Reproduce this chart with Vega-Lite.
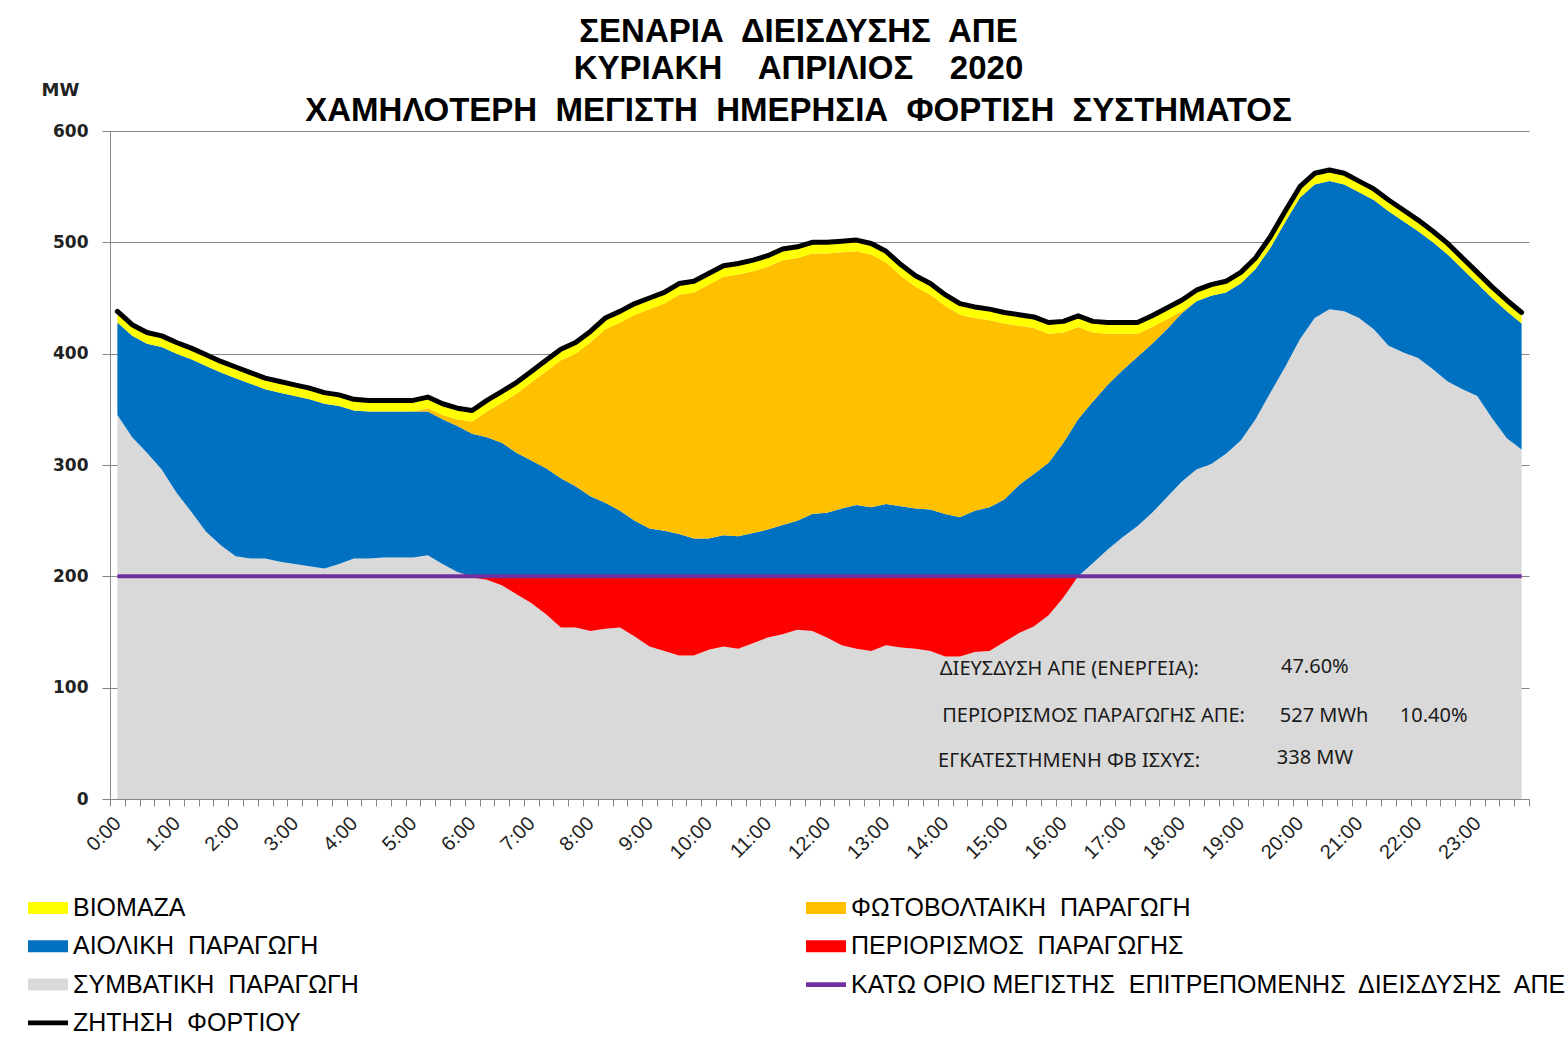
{
  "$schema": "https://vega.github.io/schema/vega-lite/v6.json",
  "width": 1419,
  "height": 668,
  "autosize": {"type": "none"},
  "padding": {"left": 110, "top": 131, "right": 39, "bottom": 239},
  "background": "white",
  "config": {"view": {"stroke": null}, "font": "Liberation Sans"},
  "title": {
    "text": ["ΣΕΝΑΡΙΑ\u00a0 ΔΙΕΙΣΔΥΣΗΣ\u00a0 ΑΠΕ", "ΚΥΡΙΑΚΗ\u00a0\u00a0\u00a0 ΑΠΡΙΛΙΟΣ\u00a0\u00a0\u00a0 2020"],
    "subtitle": "ΧΑΜΗΛΟΤΕΡΗ\u00a0 ΜΕΓΙΣΤΗ\u00a0 ΗΜΕΡΗΣΙΑ\u00a0 ΦΟΡΤΙΣΗ\u00a0 ΣΥΣΤΗΜΑΤΟΣ",
    "font": "Liberation Sans", "fontSize": 33, "fontWeight": "bold", "color": "black", "lineHeight": 37,
    "subtitleFont": "Liberation Sans", "subtitleFontSize": 33, "subtitleFontWeight": "bold", "subtitleColor": "black",
    "subtitlePadding": 9, "anchor": "middle", "dx": -21, "offset": -47
  },
  "datasets": {
    "series": [
      {"key": "conv", "label": "ΣΥΜΒΑΤΙΚΗ ΠΑΡΑΓΩΓΗ", "ord": 1},
      {"key": "curt", "label": "ΠΕΡΙΟΡΙΣΜΟΣ ΠΑΡΑΓΩΓΗΣ", "ord": 2},
      {"key": "wind", "label": "ΑΙΟΛΙΚΗ ΠΑΡΑΓΩΓΗ", "ord": 3},
      {"key": "pv", "label": "ΦΩΤΟΒΟΛΤΑΙΚΗ ΠΑΡΑΓΩΓΗ", "ord": 4},
      {"key": "bio", "label": "ΒΙΟΜΑΖΑ", "ord": 5}
    ]
  },
  "data": {"values": [
    {"h":0,"conv":345,"curt":0,"wind":83,"pv":0,"bio":10,"demand":438,"limit":200},
    {"h":0.25,"conv":325,"curt":0,"wind":91,"pv":0,"bio":10,"demand":426,"limit":200},
    {"h":0.5,"conv":311,"curt":0,"wind":98,"pv":0,"bio":10,"demand":419,"limit":200},
    {"h":0.75,"conv":296,"curt":0,"wind":110,"pv":0,"bio":10,"demand":416,"limit":200},
    {"h":1,"conv":275,"curt":0,"wind":125,"pv":0,"bio":10,"demand":410,"limit":200},
    {"h":1.25,"conv":258,"curt":0,"wind":137,"pv":0,"bio":10,"demand":405,"limit":200},
    {"h":1.5,"conv":240,"curt":0,"wind":149,"pv":0,"bio":10,"demand":399,"limit":200},
    {"h":1.75,"conv":228,"curt":0,"wind":155,"pv":0,"bio":10,"demand":393,"limit":200},
    {"h":2,"conv":218,"curt":0,"wind":160,"pv":0,"bio":10,"demand":388,"limit":200},
    {"h":2.25,"conv":216,"curt":0,"wind":157,"pv":0,"bio":10,"demand":383,"limit":200},
    {"h":2.5,"conv":216,"curt":0,"wind":152,"pv":0,"bio":10,"demand":378,"limit":200},
    {"h":2.75,"conv":213,"curt":0,"wind":152,"pv":0,"bio":10,"demand":375,"limit":200},
    {"h":3,"conv":211,"curt":0,"wind":151,"pv":0,"bio":10,"demand":372,"limit":200},
    {"h":3.25,"conv":209,"curt":0,"wind":150,"pv":0,"bio":10,"demand":369,"limit":200},
    {"h":3.5,"conv":207,"curt":0,"wind":148,"pv":0,"bio":10,"demand":365,"limit":200},
    {"h":3.75,"conv":211,"curt":0,"wind":142,"pv":0,"bio":10,"demand":363,"limit":200},
    {"h":4,"conv":216,"curt":0,"wind":133,"pv":0,"bio":10,"demand":359,"limit":200},
    {"h":4.25,"conv":216,"curt":0,"wind":132,"pv":0,"bio":10,"demand":358,"limit":200},
    {"h":4.5,"conv":217,"curt":0,"wind":131,"pv":0,"bio":10,"demand":358,"limit":200},
    {"h":4.75,"conv":217,"curt":0,"wind":131,"pv":0,"bio":10,"demand":358,"limit":200},
    {"h":5,"conv":217,"curt":0,"wind":131,"pv":0,"bio":10,"demand":358,"limit":200},
    {"h":5.25,"conv":219,"curt":0,"wind":129,"pv":3,"bio":10,"demand":361,"limit":200},
    {"h":5.5,"conv":211,"curt":0,"wind":130,"pv":4,"bio":10,"demand":355,"limit":200},
    {"h":5.75,"conv":204,"curt":0,"wind":131,"pv":6,"bio":10,"demand":351,"limit":200},
    {"h":6,"conv":199,"curt":1,"wind":128,"pv":11,"bio":10,"demand":349,"limit":200},
    {"h":6.25,"conv":197,"curt":3,"wind":125,"pv":23,"bio":10,"demand":358,"limit":200},
    {"h":6.5,"conv":192,"curt":8,"wind":120,"pv":36,"bio":10,"demand":366,"limit":200},
    {"h":6.75,"conv":184,"curt":16,"wind":111,"pv":53,"bio":10,"demand":374,"limit":200},
    {"h":7,"conv":176,"curt":24,"wind":104,"pv":70,"bio":10,"demand":384,"limit":200},
    {"h":7.25,"conv":166,"curt":34,"wind":97,"pv":87,"bio":10,"demand":394,"limit":200},
    {"h":7.5,"conv":154,"curt":46,"wind":88,"pv":106,"bio":10,"demand":404,"limit":200},
    {"h":7.75,"conv":154,"curt":46,"wind":81,"pv":119,"bio":10,"demand":410,"limit":200},
    {"h":8,"conv":151,"curt":49,"wind":72,"pv":138,"bio":10,"demand":420,"limit":200},
    {"h":8.25,"conv":153,"curt":47,"wind":66,"pv":156,"bio":10,"demand":432,"limit":200},
    {"h":8.5,"conv":154,"curt":46,"wind":59,"pv":169,"bio":10,"demand":438,"limit":200},
    {"h":8.75,"conv":146,"curt":54,"wind":50,"pv":185,"bio":10,"demand":445,"limit":200},
    {"h":9,"conv":137,"curt":63,"wind":43,"pv":197,"bio":10,"demand":450,"limit":200},
    {"h":9.25,"conv":133,"curt":67,"wind":41,"pv":204,"bio":10,"demand":455,"limit":200},
    {"h":9.5,"conv":129,"curt":71,"wind":38,"pv":215,"bio":10,"demand":463,"limit":200},
    {"h":9.75,"conv":129,"curt":71,"wind":34,"pv":221,"bio":10,"demand":465,"limit":200},
    {"h":10,"conv":134,"curt":66,"wind":34,"pv":228,"bio":10,"demand":472,"limit":200},
    {"h":10.25,"conv":137,"curt":63,"wind":37,"pv":232,"bio":10,"demand":479,"limit":200},
    {"h":10.5,"conv":135,"curt":65,"wind":36,"pv":235,"bio":10,"demand":481,"limit":200},
    {"h":10.75,"conv":140,"curt":60,"wind":39,"pv":235,"bio":10,"demand":484,"limit":200},
    {"h":11,"conv":145,"curt":55,"wind":42,"pv":236,"bio":10,"demand":488,"limit":200},
    {"h":11.25,"conv":148,"curt":52,"wind":46,"pv":238,"bio":10,"demand":494,"limit":200},
    {"h":11.5,"conv":152,"curt":48,"wind":50,"pv":236,"bio":10,"demand":496,"limit":200},
    {"h":11.75,"conv":151,"curt":49,"wind":56,"pv":234,"bio":10,"demand":500,"limit":200},
    {"h":12,"conv":145,"curt":55,"wind":57,"pv":233,"bio":10,"demand":500,"limit":200},
    {"h":12.25,"conv":138,"curt":62,"wind":61,"pv":230,"bio":10,"demand":501,"limit":200},
    {"h":12.5,"conv":135,"curt":65,"wind":64,"pv":228,"bio":10,"demand":502,"limit":200},
    {"h":12.75,"conv":133,"curt":67,"wind":62,"pv":227,"bio":10,"demand":499,"limit":200},
    {"h":13,"conv":138,"curt":62,"wind":65,"pv":217,"bio":10,"demand":492,"limit":200},
    {"h":13.25,"conv":136,"curt":64,"wind":63,"pv":207,"bio":10,"demand":480,"limit":200},
    {"h":13.5,"conv":135,"curt":65,"wind":61,"pv":199,"bio":10,"demand":470,"limit":200},
    {"h":13.75,"conv":133,"curt":67,"wind":60,"pv":193,"bio":10,"demand":463,"limit":200},
    {"h":14,"conv":128,"curt":72,"wind":56,"pv":187,"bio":10,"demand":453,"limit":200},
    {"h":14.25,"conv":128,"curt":72,"wind":53,"pv":182,"bio":10,"demand":445,"limit":200},
    {"h":14.5,"conv":132,"curt":68,"wind":59,"pv":173,"bio":10,"demand":442,"limit":200},
    {"h":14.75,"conv":133,"curt":67,"wind":62,"pv":168,"bio":10,"demand":440,"limit":200},
    {"h":15,"conv":141,"curt":59,"wind":69,"pv":158,"bio":10,"demand":437,"limit":200},
    {"h":15.25,"conv":149,"curt":51,"wind":82,"pv":143,"bio":10,"demand":435,"limit":200},
    {"h":15.5,"conv":155,"curt":45,"wind":92,"pv":131,"bio":10,"demand":433,"limit":200},
    {"h":15.75,"conv":165,"curt":35,"wind":102,"pv":116,"bio":10,"demand":428,"limit":200},
    {"h":16,"conv":181,"curt":19,"wind":120,"pv":99,"bio":10,"demand":429,"limit":200},
    {"h":16.25,"conv":200,"curt":0,"wind":141,"pv":83,"bio":10,"demand":434,"limit":200},
    {"h":16.5,"conv":212,"curt":0,"wind":145,"pv":62,"bio":10,"demand":429,"limit":200},
    {"h":16.75,"conv":224,"curt":0,"wind":148,"pv":46,"bio":10,"demand":428,"limit":200},
    {"h":17,"conv":235,"curt":0,"wind":150,"pv":33,"bio":10,"demand":428,"limit":200},
    {"h":17.25,"conv":245,"curt":0,"wind":152,"pv":21,"bio":10,"demand":428,"limit":200},
    {"h":17.5,"conv":257,"curt":0,"wind":152,"pv":15,"bio":10,"demand":434,"limit":200},
    {"h":17.75,"conv":271,"curt":0,"wind":151,"pv":9,"bio":10,"demand":441,"limit":200},
    {"h":18,"conv":285,"curt":0,"wind":151,"pv":2,"bio":10,"demand":448,"limit":200},
    {"h":18.25,"conv":296,"curt":0,"wind":151,"pv":0,"bio":10,"demand":457,"limit":200},
    {"h":18.5,"conv":301,"curt":0,"wind":151,"pv":0,"bio":10,"demand":462,"limit":200},
    {"h":18.75,"conv":310,"curt":0,"wind":145,"pv":0,"bio":10,"demand":465,"limit":200},
    {"h":19,"conv":322,"curt":0,"wind":141,"pv":0,"bio":10,"demand":473,"limit":200},
    {"h":19.25,"conv":341,"curt":0,"wind":135,"pv":0,"bio":10,"demand":486,"limit":200},
    {"h":19.5,"conv":365,"curt":0,"wind":130,"pv":0,"bio":10,"demand":505,"limit":200},
    {"h":19.75,"conv":388,"curt":0,"wind":130,"pv":0,"bio":10,"demand":528,"limit":200},
    {"h":20,"conv":413,"curt":0,"wind":127,"pv":0,"bio":10,"demand":550,"limit":200},
    {"h":20.25,"conv":432,"curt":0,"wind":120,"pv":0,"bio":10,"demand":562,"limit":200},
    {"h":20.5,"conv":440,"curt":0,"wind":115,"pv":0,"bio":10,"demand":565,"limit":200},
    {"h":20.75,"conv":438,"curt":0,"wind":114,"pv":0,"bio":10,"demand":562,"limit":200},
    {"h":21,"conv":432,"curt":0,"wind":113,"pv":0,"bio":10,"demand":555,"limit":200},
    {"h":21.25,"conv":422,"curt":0,"wind":116,"pv":0,"bio":10,"demand":548,"limit":200},
    {"h":21.5,"conv":407,"curt":0,"wind":121,"pv":0,"bio":10,"demand":538,"limit":200},
    {"h":21.75,"conv":401,"curt":0,"wind":118,"pv":0,"bio":10,"demand":529,"limit":200},
    {"h":22,"conv":396,"curt":0,"wind":114,"pv":0,"bio":10,"demand":520,"limit":200},
    {"h":22.25,"conv":386,"curt":0,"wind":114,"pv":0,"bio":10,"demand":510,"limit":200},
    {"h":22.5,"conv":375,"curt":0,"wind":114,"pv":0,"bio":10,"demand":499,"limit":200},
    {"h":22.75,"conv":368,"curt":0,"wind":108,"pv":0,"bio":10,"demand":486,"limit":200},
    {"h":23,"conv":362,"curt":0,"wind":101,"pv":0,"bio":10,"demand":473,"limit":200},
    {"h":23.25,"conv":342,"curt":0,"wind":108,"pv":0,"bio":10,"demand":460,"limit":200},
    {"h":23.5,"conv":324,"curt":0,"wind":114,"pv":0,"bio":10,"demand":448,"limit":200},
    {"h":23.75,"conv":314,"curt":0,"wind":113,"pv":0,"bio":10,"demand":437,"limit":200}
  ]},
  "resolve": {"axis": {"x": "independent"}},
  "layer": [
    {
      "transform": [
        {"fold": ["conv", "curt", "wind", "pv", "bio"], "as": ["key", "v"]},
        {"lookup": "key", "from": {"data": {"name": "series"}, "key": "key", "fields": ["label", "ord"]}}
      ],
      "mark": {"type": "area", "interpolate": "linear"},
      "encoding": {
        "x": {"field": "h", "type": "quantitative",
          "scale": {"domain": [-0.125, 23.875], "nice": false, "zero": false},
          "axis": {"orient": "bottom", "title": null, "labels": false, "grid": false, "ticks": true, "tickSize": 7, "tickColor": "#868686", "domainColor": "#868686",
            "values": [-0.125,0.125,0.375,0.625,0.875,1.125,1.375,1.625,1.875,2.125,2.375,2.625,2.875,3.125,3.375,3.625,3.875,4.125,4.375,4.625,4.875,5.125,5.375,5.625,5.875,6.125,6.375,6.625,6.875,7.125,7.375,7.625,7.875,8.125,8.375,8.625,8.875,9.125,9.375,9.625,9.875,10.125,10.375,10.625,10.875,11.125,11.375,11.625,11.875,12.125,12.375,12.625,12.875,13.125,13.375,13.625,13.875,14.125,14.375,14.625,14.875,15.125,15.375,15.625,15.875,16.125,16.375,16.625,16.875,17.125,17.375,17.625,17.875,18.125,18.375,18.625,18.875,19.125,19.375,19.625,19.875,20.125,20.375,20.625,20.875,21.125,21.375,21.625,21.875,22.125,22.375,22.625,22.875,23.125,23.375,23.625,23.875]}},
        "y": {"field": "v", "type": "quantitative", "stack": "zero",
          "scale": {"domain": [0, 600], "nice": false},
          "axis": {"title": "MW", "titleAngle": 0, "titleX": -50, "titleY": -41, "titleAlign": "center", "titleBaseline": "middle",
            "titleFont": "DejaVu Sans", "titleFontSize": 18, "titleFontWeight": "bold", "titleColor": "#222",
            "values": [0, 100, 200, 300, 400, 500, 600], "grid": true, "gridColor": "#868686", "gridWidth": 1,
            "domainColor": "#868686", "tickColor": "#868686", "tickSize": 8,
            "labelFont": "DejaVu Sans", "labelFontWeight": "bold", "labelFontSize": 17, "labelColor": "#222", "labelPadding": 14}},
        "color": {"field": "label", "type": "nominal",
          "scale": {
            "domain": ["ΒΙΟΜΑΖΑ", "ΑΙΟΛΙΚΗ ΠΑΡΑΓΩΓΗ", "ΣΥΜΒΑΤΙΚΗ ΠΑΡΑΓΩΓΗ", "ΖΗΤΗΣΗ ΦΟΡΤΙΟΥ", "ΦΩΤΟΒΟΛΤΑΙΚΗ ΠΑΡΑΓΩΓΗ", "ΠΕΡΙΟΡΙΣΜΟΣ ΠΑΡΑΓΩΓΗΣ", "ΚΑΤΩ ΟΡΙΟ ΜΕΓΙΣΤΗΣ ΕΠΙΤΡΕΠΟΜΕΝΗΣ ΔΙΕΙΣΔΥΣΗΣ ΑΠΕ"],
            "range": ["#FFFF00", "#0070C0", "#D9D9D9", "#000000", "#FFC000", "#FF0000", "#7030A0"]},
          "legend": {"orient": "none", "legendX": -82, "legendY": 757, "columns": 2, "columnPadding": 447, "rowPadding": 5.3,
            "title": null, "symbolSize": 1600, "labelFont": "Liberation Sans", "labelFontSize": 25, "labelColor": "black", "labelLimit": 1000, "labelOffset": 5,
            "labelExpr": "replace(replace(datum.label, / /g, '\u00a0 '), 'ΚΑΤΩ\u00a0 ΟΡΙΟ\u00a0 ', 'ΚΑΤΩ ΟΡΙΟ ')",
            "encode": {"symbols": {"update": {
              "shape": {"signal": "indexof(['ΖΗΤΗΣΗ ΦΟΡΤΙΟΥ', 'ΚΑΤΩ ΟΡΙΟ ΜΕΓΙΣΤΗΣ ΕΠΙΤΡΕΠΟΜΕΝΗΣ ΔΙΕΙΣΔΥΣΗΣ ΑΠΕ'], datum.value) >= 0 ? 'M-1,-0.12H1V0.12H-1Z' : 'M-1,-0.3H1V0.3H-1Z'"},
              "fill": {"scale": "color", "field": "value"},
              "stroke": {"value": "transparent"}, "strokeWidth": {"value": 0},
              "fillOpacity": {"value": 1}, "opacity": {"value": 1}}}}}},
        "order": {"field": "ord", "type": "quantitative"}
      }
    },
    {
      "mark": {"type": "line", "strokeWidth": 4},
      "encoding": {
        "x": {"field": "h", "type": "quantitative", "axis": null},
        "y": {"field": "limit", "type": "quantitative", "title": "MW"},
        "color": {"datum": "ΚΑΤΩ ΟΡΙΟ ΜΕΓΙΣΤΗΣ ΕΠΙΤΡΕΠΟΜΕΝΗΣ ΔΙΕΙΣΔΥΣΗΣ ΑΠΕ"}
      }
    },
    {
      "mark": {"type": "line", "strokeWidth": 5, "strokeJoin": "round", "strokeCap": "round"},
      "encoding": {
        "x": {"field": "h", "type": "quantitative",
          "axis": {"orient": "bottom", "title": null, "values": [0,1,2,3,4,5,6,7,8,9,10,11,12,13,14,15,16,17,18,19,20,21,22,23],
            "labelExpr": "datum.value + ':00'", "ticks": false, "domain": false, "grid": false,
            "labelAngle": -45, "labelAlign": "right", "labelBaseline": "middle", "labelPadding": 21,
            "labelFont": "Liberation Sans", "labelFontSize": 20, "labelColor": "#222"}},
        "y": {"field": "demand", "type": "quantitative", "title": "MW"},
        "color": {"datum": "ΖΗΤΗΣΗ ΦΟΡΤΙΟΥ"}
      }
    },
    {
      "data": {"values": [{}]},
      "mark": {"type": "text", "align": "left", "baseline": "middle", "font": "Noto Sans", "fontSize": 20, "color": "#1a1a1a", "text": "ΔΙΕΥΣΔΥΣΗ ΑΠΕ (ΕΝΕΡΓΕΙΑ):"},
      "encoding": {"x": {"datum": 13.91, "type": "quantitative", "axis": null}, "y": {"datum": 117, "type": "quantitative"}}
    },
    {
      "data": {"values": [{}]},
      "mark": {"type": "text", "align": "left", "baseline": "middle", "font": "Noto Sans", "fontSize": 20, "color": "#1a1a1a", "text": "47.60%"},
      "encoding": {"x": {"datum": 19.68, "type": "quantitative", "axis": null}, "y": {"datum": 119, "type": "quantitative"}}
    },
    {
      "data": {"values": [{}]},
      "mark": {"type": "text", "align": "left", "baseline": "middle", "font": "Noto Sans", "fontSize": 20, "color": "#1a1a1a", "text": "ΠΕΡΙΟΡΙΣΜΟΣ ΠΑΡΑΓΩΓΗΣ ΑΠΕ:"},
      "encoding": {"x": {"datum": 13.95, "type": "quantitative", "axis": null}, "y": {"datum": 75, "type": "quantitative"}}
    },
    {
      "data": {"values": [{}]},
      "mark": {"type": "text", "align": "left", "baseline": "middle", "font": "Noto Sans", "fontSize": 20, "color": "#1a1a1a", "text": "527 MWh"},
      "encoding": {"x": {"datum": 19.66, "type": "quantitative", "axis": null}, "y": {"datum": 75, "type": "quantitative"}}
    },
    {
      "data": {"values": [{}]},
      "mark": {"type": "text", "align": "left", "baseline": "middle", "font": "Noto Sans", "fontSize": 20, "color": "#1a1a1a", "text": "10.40%"},
      "encoding": {"x": {"datum": 21.69, "type": "quantitative", "axis": null}, "y": {"datum": 75, "type": "quantitative"}}
    },
    {
      "data": {"values": [{}]},
      "mark": {"type": "text", "align": "left", "baseline": "middle", "font": "Noto Sans", "fontSize": 20, "color": "#1a1a1a", "text": "ΕΓΚΑΤΕΣΤΗΜΕΝΗ ΦΒ ΙΣΧΥΣ:"},
      "encoding": {"x": {"datum": 13.88, "type": "quantitative", "axis": null}, "y": {"datum": 34, "type": "quantitative"}}
    },
    {
      "data": {"values": [{}]},
      "mark": {"type": "text", "align": "left", "baseline": "middle", "font": "Noto Sans", "fontSize": 20, "color": "#1a1a1a", "text": "338 MW"},
      "encoding": {"x": {"datum": 19.61, "type": "quantitative", "axis": null}, "y": {"datum": 37, "type": "quantitative"}}
    }
  ]
}
